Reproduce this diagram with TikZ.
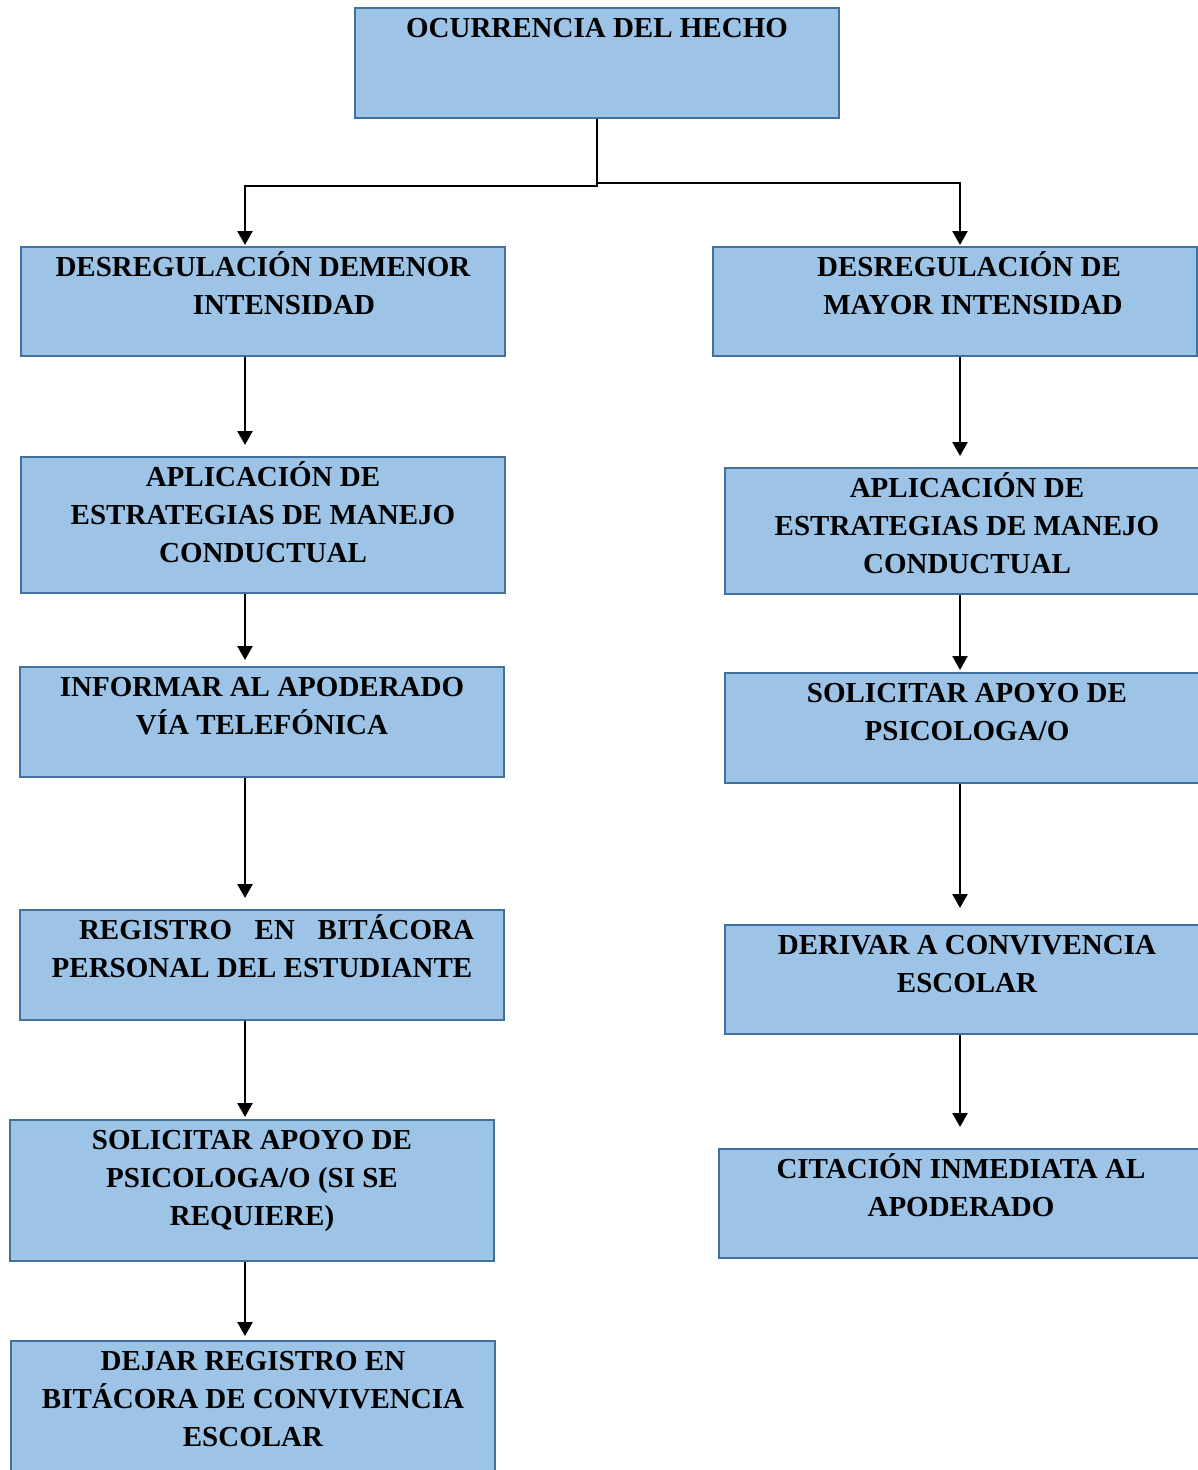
\documentclass[tikz,border=0pt]{standalone}
\usepackage{fontspec}
\setmainfont{Liberation Serif}
\usetikzlibrary{arrows.meta}
\definecolor{boxfill}{HTML}{9DC3E6}
\definecolor{boxline}{HTML}{41719C}
\newcommand\bxt[3]{\parbox[c][#2][t]{#1}{\centering\rule{0pt}{29pt}#3}}
\tikzset{
  flowbox/.style={draw=boxline, line width=2pt, fill=boxfill, inner sep=0pt, anchor=north west,
    font=\bfseries\fontsize{29}{38}\selectfont},
  conn/.style={line width=2.6pt, -{Triangle[length=14pt,width=15pt]}}
}
\begin{document}
\begin{tikzpicture}[x=1pt,y=-1pt]
\useasboundingbox (0,0) rectangle (1198,1470);
\coordinate (cl) at (245,0);
\coordinate (cr) at (960,0);
% top
\node[flowbox] (top) at (354,7) {\bxt{484pt}{110pt}{OCURRENCIA DEL HECHO}};
% left column
\node[flowbox] (L1) at (20,246) {\bxt{484pt}{109pt}{DESREGULACIÓN DEMENOR\\\hspace*{42pt}INTENSIDAD}};
\node[flowbox] (L2) at (20,456) {\bxt{484pt}{136pt}{APLICACIÓN DE\\ESTRATEGIAS DE MANEJO\\CONDUCTUAL}};
\node[flowbox] (L3) at (19,666) {\bxt{484pt}{110pt}{INFORMAR AL APODERADO\\VÍA TELEFÓNICA}};
\node[flowbox] (L4) at (19,909) {\bxt{484pt}{110pt}{\makebox[424pt][l]{\hspace*{29pt}REGISTRO\hfill EN\hfill BITÁCORA}\\PERSONAL DEL ESTUDIANTE}};
\node[flowbox] (L5) at (9,1119) {\bxt{484pt}{141pt}{SOLICITAR APOYO DE\\PSICOLOGA/O (SI SE\\REQUIERE)}};
\node[flowbox] (L6) at (10,1340) {\bxt{484pt}{140pt}{DEJAR REGISTRO EN\\BITÁCORA DE CONVIVENCIA\\ESCOLAR}};
% right column
\node[flowbox] (R1) at (712,246) {\bxt{484pt}{109pt}{\hspace*{28pt}DESREGULACIÓN DE\\\hspace*{36pt}MAYOR INTENSIDAD}};
\node[flowbox] (R2) at (724,467) {\bxt{484pt}{126pt}{APLICACIÓN DE\\ESTRATEGIAS DE MANEJO\\CONDUCTUAL}};
\node[flowbox] (R3) at (724,672) {\bxt{484pt}{110pt}{SOLICITAR APOYO DE\\PSICOLOGA/O}};
\node[flowbox] (R4) at (724,924) {\bxt{484pt}{109pt}{DERIVAR A CONVIVENCIA\\ESCOLAR}};
\node[flowbox] (R5) at (718,1148) {\bxt{484pt}{109pt}{CITACIÓN INMEDIATA AL\\APODERADO}};
% connectors
\draw[conn, shorten >=1pt] (top.south) -- ++(0,67) -| (L1.north -| cl);
\draw[conn, shorten >=1pt] (top.south) -- ++(0,64) -| (R1.north -| cr);
\draw[conn, shorten >=11pt] (L1.south -| cl) -- (L2.north -| cl);
\draw[conn, shorten >=6pt] (L2.south -| cl) -- (L3.north -| cl);
\draw[conn, shorten >=11pt] (L3.south -| cl) -- (L4.north -| cl);
\draw[conn, shorten >=2pt] (L4.south -| cl) -- (L5.north -| cl);
\draw[conn, shorten >=4pt] (L5.south -| cl) -- (L6.north -| cl);
\draw[conn, shorten >=11pt] (R1.south -| cr) -- (R2.north -| cr);
\draw[conn, shorten >=2pt] (R2.south -| cr) -- (R3.north -| cr);
\draw[conn, shorten >=16pt] (R3.south -| cr) -- (R4.north -| cr);
\draw[conn, shorten >=21pt] (R4.south -| cr) -- (R5.north -| cr);
\end{tikzpicture}
\end{document}
